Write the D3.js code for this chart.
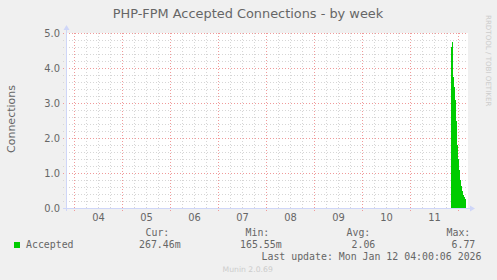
<!DOCTYPE html>
<html>
<head>
<meta charset="utf-8">
<script src="https://cdn.jsdelivr.net/npm/d3@7"></script>
<style>
  html, body { margin: 0; padding: 0; background: #f0f0f0; }
  svg { display: block; }
</style>
</head>
<body>
<svg id="chart" width="497" height="280"></svg>
<script>
// ---------- data ----------
const title = "PHP-FPM Accepted Connections - by week";
const yLabel = "Connections";
const seriesName = "Accepted";
const lastUpdate = "2026-01-12T04:00:00Z";
// 30-minute samples, first sample starts at:
const sampleStart = "2026-01-11T20:30:00Z";
const sampleStepMinutes = 30;
const acceptedValues = [4.6, 4.75, 3.75, 3.45, 3.1, 2.5, 1.8, 1.4, 1.1, 0.8, 0.62, 0.48, 0.38, 0.32, 0.27];
const yTicks = [0, 1, 2, 3, 4, 5];
const dayLabels = ["04", "05", "06", "07", "08", "09", "10", "11"];
const legendHeaders = ["Cur:", "Min:", "Avg:", "Max:"];
const legendValues = ["267.46m", "165.55m", "2.06", "6.77"];

(function () {
// ---------- layout ----------
const svg = d3.select("#chart");
const W = 497, H = 280;
const pLeft = 66, pRight = 468, pTop = 33, pBottom = 208;
const HOUR = 3600 * 1000;
const midnight = new Date("2026-01-12T00:00:00Z");
// 1 px = 30 minutes, midnight Jan 12 at x = 458
const x = d3.scaleUtc()
  .domain([new Date(+midnight - (458 - pLeft) * HOUR / 2), new Date(+midnight + (pRight - 458) * HOUR / 2)])
  .range([pLeft, pRight]);
const y = d3.scaleLinear().domain([0, 5]).range([pBottom, pTop]);

svg.append("rect").attr("width", W).attr("height", H).attr("fill", "#f0f0f0");
svg.append("rect").attr("x", pLeft).attr("y", pTop).attr("width", pRight - pLeft).attr("height", pBottom - pTop).attr("fill", "#ffffff");

const gridMinor = "#d6d6d6";
const gridMajor = "#f09a9a";

const minorTimes = d3.utcHour.every(6).range(x.domain()[0], x.domain()[1]).filter(d => d.getUTCHours() !== 0);
const majorTimes = d3.utcDay.range(x.domain()[0], x.domain()[1]);
const g = svg.append("g").attr("shape-rendering", "crispEdges");
g.selectAll("line.vminor").data(minorTimes).join("line")
  .attr("x1", d => Math.round(x(d)) + 0.5).attr("x2", d => Math.round(x(d)) + 0.5)
  .attr("y1", pTop).attr("y2", pBottom + 2)
  .attr("stroke", gridMinor).attr("stroke-dasharray", "1,2");
const minorY = d3.range(1, 25).map(i => i * 0.2).filter(v => Math.abs(v - Math.round(v)) > 1e-6);
g.selectAll("line.hminor").data(minorY).join("line")
  .attr("x1", pLeft - 3).attr("x2", pRight)
  .attr("y1", d => Math.round(y(d)) + 0.5).attr("y2", d => Math.round(y(d)) + 0.5)
  .attr("stroke", gridMinor).attr("stroke-dasharray", "1,2");
g.selectAll("line.vmajor").data(majorTimes).join("line")
  .attr("x1", d => Math.round(x(d)) + 0.5).attr("x2", d => Math.round(x(d)) + 0.5)
  .attr("y1", pTop).attr("y2", pBottom + 3)
  .attr("stroke", gridMajor).attr("stroke-dasharray", "1,2");
g.selectAll("line.hmajor").data(yTicks.filter(v => v > 0)).join("line")
  .attr("x1", pLeft - 3).attr("x2", pRight)
  .attr("y1", d => Math.round(y(d)) + 0.5).attr("y2", d => Math.round(y(d)) + 0.5)
  .attr("stroke", gridMajor).attr("stroke-dasharray", "1,2");

// ---------- area ----------
const t0 = new Date(sampleStart);
const samples = acceptedValues.map((v, i) => ({ t: new Date(+t0 + i * sampleStepMinutes * 60000), v }));
const stepPts = samples.concat([{ t: new Date(+samples[samples.length - 1].t + sampleStepMinutes * 60000), v: samples[samples.length - 1].v }]);
const area = d3.area()
  .x(d => Math.round(x(d.t))).y0(y(0)).y1(d => y(d.v))
  .curve(d3.curveStepAfter);
svg.append("path").datum(stepPts).attr("d", area).attr("fill", "#00cc00").attr("shape-rendering", "crispEdges");

// ---------- axes ----------
const axisColor = "#cfd6f8";
svg.append("line").attr("x1", pLeft + 0.5).attr("x2", pLeft + 0.5).attr("y1", pBottom + 3).attr("y2", pTop - 5).attr("stroke", axisColor);
svg.append("path").attr("d", `M${pLeft - 2.5},${pTop - 3} L${pLeft + 3.5},${pTop - 3} L${pLeft + 0.5},${pTop - 8} Z`).attr("fill", axisColor);
svg.append("line").attr("x1", pLeft - 3).attr("x2", pRight + 3).attr("y1", pBottom + 0.5).attr("y2", pBottom + 0.5).attr("stroke", axisColor);
svg.append("path").attr("d", `M${pRight + 2},${pBottom - 2.5} L${pRight + 2},${pBottom + 3.5} L${pRight + 7},${pBottom + 0.5} Z`).attr("fill", axisColor);

const textColor = "#666666";
const yAxis = d3.axisLeft(y).tickValues(yTicks).tickFormat(d3.format(".1f")).tickSize(0).tickPadding(6);
const ya = svg.append("g").attr("transform", `translate(${pLeft},0)`).call(yAxis);
ya.select(".domain").remove();
ya.selectAll("text").attr("font-family", "DejaVu Sans").attr("font-size", "9.9px").attr("fill", textColor);

const noonTicks = dayLabels.map(d => new Date(`2026-01-${d}T12:00:00Z`));
const xAxis = d3.axisBottom(x).tickValues(noonTicks).tickFormat(d3.utcFormat("%d")).tickSize(0).tickPadding(6);
const xa = svg.append("g").attr("transform", `translate(0,${pBottom})`).call(xAxis);
xa.select(".domain").remove();
xa.selectAll("text").attr("font-family", "DejaVu Sans").attr("font-size", "9.9px").attr("fill", textColor);

// ---------- titles ----------
svg.append("text").attr("x", 248).attr("y", 18).attr("text-anchor", "middle")
  .attr("font-family", "DejaVu Sans").attr("font-size", "12.9px").attr("fill", textColor).text(title);
svg.append("text").attr("transform", `translate(15,119) rotate(-90)`).attr("text-anchor", "middle")
  .attr("font-family", "DejaVu Sans").attr("font-size", "11px").attr("fill", textColor).text(yLabel);
svg.append("text").attr("transform", `translate(486,15) rotate(90)`).attr("text-anchor", "start")
  .attr("font-family", "DejaVu Sans").attr("font-size", "7.1px").attr("fill", "#cccccc").text("RRDTOOL / TOBI OETIKER");

// ---------- legend ----------
const mono = "DejaVu Sans Mono";
svg.append("rect").attr("x", 14).attr("y", 242).attr("width", 6).attr("height", 6).attr("fill", "#00cc00");
svg.append("text").attr("x", 26).attr("y", 248).attr("font-family", mono).attr("font-size", "9.9px").attr("fill", textColor).text(seriesName);
const headerX = [145.5, 245.5, 346.5, 446.5];
const valueX = [139, 240, 351.5, 451.5];
svg.selectAll("text.lh").data(legendHeaders).join("text")
  .attr("x", (d, i) => headerX[i]).attr("y", 236)
  .attr("font-family", mono).attr("font-size", "9.9px").attr("fill", textColor).text(d => d);
svg.selectAll("text.lv").data(legendValues).join("text")
  .attr("x", (d, i) => valueX[i]).attr("y", 248)
  .attr("font-family", mono).attr("font-size", "9.9px").attr("fill", textColor).text(d => d);
const upd = d3.utcFormat("%a %b %d %H:%M:06 %Y")(new Date(lastUpdate));
svg.append("text").attr("x", 261.5).attr("y", 260).attr("font-family", mono).attr("font-size", "9.9px").attr("fill", textColor)
  .text("Last update: " + upd);
svg.append("text").attr("x", 222.5).attr("y", 272).attr("font-family", "DejaVu Sans").attr("font-size", "7.7px").attr("fill", "#cccccc").text("Munin 2.0.69");
})();
</script>
</body>
</html>
